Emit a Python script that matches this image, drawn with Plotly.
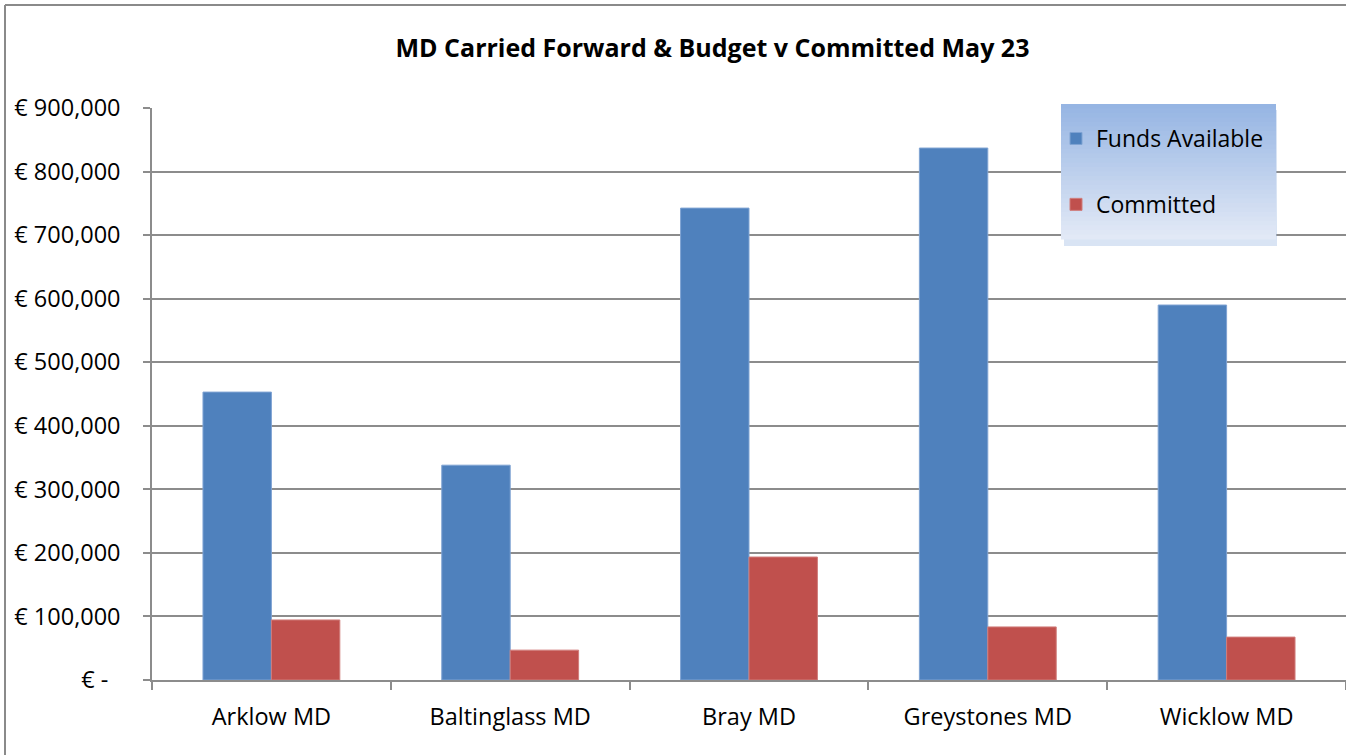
import plotly.graph_objects as go

categories = ["Arklow MD", "Baltinglass MD", "Bray MD", "Greystones MD", "Wicklow MD"]
funds_available = [453000, 338000, 742500, 837000, 590000]
committed = [94500, 47000, 193500, 83500, 67500]
tick_vals = [0, 100000, 200000, 300000, 400000, 500000, 600000, 700000, 800000, 900000]
tick_text = ["€ -  ", "€ 100,000", "€ 200,000", "€ 300,000", "€ 400,000", "€ 500,000",
             "€ 600,000", "€ 700,000", "€ 800,000", "€ 900,000"]

FONT = "Open Sans"
GRID = "#8C8C8C"

fig = go.Figure()
fig.add_trace(go.Bar(name="Funds Available", x=categories, y=funds_available,
                     marker=dict(color="#4F81BD", line=dict(color="#7FA3D3", width=1)),
                     legendgroup="a"))
fig.add_trace(go.Bar(name="Committed", x=categories, y=committed,
                     marker=dict(color="#C0504D", line=dict(color="#D07D7B", width=1)),
                     legendgroup="b"))

L, R, T, B = 152, 0, 108, 75
W, H = 1346, 755
pw, ph = W - L - R, H - T - B

def px_x(x):
    return (x - L) / pw

def px_y(y):
    return (H - B - y) / ph

shapes = []
# chart border (left + top)
shapes.append(dict(type="line", xref="paper", yref="paper", x0=px_x(5), x1=px_x(1400),
                   y0=px_y(5), y1=px_y(5), line=dict(color="#8A8A8A", width=2), layer="above"))
shapes.append(dict(type="line", xref="paper", yref="paper", x0=px_x(5), x1=px_x(5),
                   y0=px_y(5), y1=px_y(800), line=dict(color="#8A8A8A", width=2), layer="above"))

# legend box with gradient + shadow
lx0, lx1, ly0, ly1 = 1061, 1276, 104, 239
shapes.append(dict(type="rect", xref="paper", yref="paper", x0=px_x(lx0 + 3), x1=px_x(lx1 + 1),
                   y0=px_y(ly0 + 6), y1=px_y(ly1 + 7), fillcolor="rgba(170,195,230,0.45)",
                   line=dict(width=0), layer="above"))
n = 30
top = (150, 181, 227)
bot = (226, 233, 246)
for i in range(n):
    t = i / (n - 1)
    c = tuple(round(top[k] + (bot[k] - top[k]) * t) for k in range(3))
    ya = ly0 + (ly1 - ly0) * i / n
    yb = ly0 + (ly1 - ly0) * (i + 1) / n
    shapes.append(dict(type="rect", xref="paper", yref="paper", x0=px_x(lx0), x1=px_x(lx1),
                       y0=px_y(ya), y1=px_y(yb + 0.6), fillcolor="rgb(%d,%d,%d)" % c,
                       line=dict(width=0), layer="above"))

fig.update_layout(
    width=W, height=H,
    margin=dict(l=L, r=R, t=T, b=B, pad=0),
    paper_bgcolor="white", plot_bgcolor="white",
    font=dict(family=FONT, size=23, color="black"),
    title=dict(text="<b>MD Carried Forward & Budget v Committed May 23</b>",
               x=px_x(712.5), xref="paper", xanchor="center", y=1 - 48 / H, yanchor="middle",
               font=dict(family=FONT, size=25, color="black")),
    barmode="group", bargap=0.427, bargroupgap=0,
    showlegend=True,
    legend=dict(x=px_x(1056), y=px_y(117), xanchor="left", yanchor="top",
                bgcolor="rgba(0,0,0,0)", borderwidth=0, tracegroupgap=33,
                font=dict(family=FONT, size=23, color="black")),
    shapes=shapes,
    xaxis=dict(type="category", showgrid=False, showline=True, linecolor=GRID, linewidth=1.5,
               ticks="outside", tickson="boundaries", ticklen=8, tickcolor=GRID, tickwidth=1.5,
               tickfont=dict(family=FONT, size=23.5), ticklabelstandoff=15,
               range=[-0.5, 4.5]),
    yaxis=dict(range=[0, 900000], tickvals=tick_vals, ticktext=tick_text, showgrid=True,
               gridcolor=GRID, gridwidth=1.5, showline=True, linecolor=GRID, linewidth=1.5,
               ticks="outside", ticklen=7, tickcolor=GRID, tickwidth=1.5, zeroline=False,
               tickfont=dict(family=FONT, size=23.5), ticklabelstandoff=18),
)

fig.write_html("out.html", config={"displayModeBar": False},
               post_script="document.body.style.margin='0';document.body.style.overflow='hidden';")
